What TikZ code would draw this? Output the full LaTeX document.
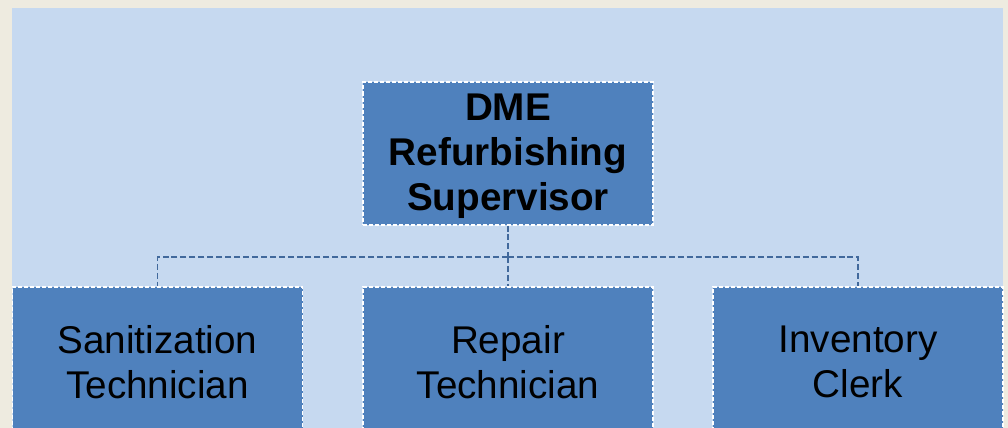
\documentclass[tikz,border=0pt]{standalone}
\usepackage{fontspec}
\setmainfont{Liberation Sans}
\definecolor{pagebg}{HTML}{EEEBE0}
\definecolor{panelbg}{HTML}{C6D9F0}
\definecolor{boxfill}{HTML}{4F81BD}
\definecolor{linkcol}{HTML}{41699C}
\begin{document}
\begin{tikzpicture}[x=0.75pt, y=-0.75pt,
    role/.style={draw=white, fill=boxfill, line width=1pt, dash pattern=on 3pt off 1.5pt,
      minimum width=217.5pt, align=center, text=black, inner sep=0pt,
      font=\fontsize{29}{33.5}\selectfont},
    link/.style={draw=linkcol, line width=1pt, dash pattern=on 4.5pt off 2.2pt}]
  % page and panel
  \useasboundingbox (0,0) rectangle (1008,428);
  \clip (0,0) rectangle (1008,428);
  \fill[pagebg] (0,0) rectangle (1008,428);
  \fill[panelbg] (12,8) rectangle (1003,440);

  % supervisor
  \node[role, minimum height=107pt, font=\bfseries\fontsize{29}{34}\selectfont] (sup) at (508,153.5)
    {\rule{0pt}{24pt}DME\\Refurbishing\\Supervisor};

  % staff
  \node[role, minimum height=112.5pt] (san) at (157.5,362) {Sanitization\\Technician};
  \node[role, minimum height=112.5pt] (rep) at (508,362) {Repair\\Technician};
  \node[role, minimum height=112.5pt] (inv) at (858,362) {Inventory\\Clerk};

  % links
  \coordinate (bus) at (508,257);
  \draw[link] (sup.south) -- (bus);
  \draw[link] (bus) -| (san.north);
  \draw[link] (bus) -- (rep.north);
  \draw[link] (bus) -| (inv.north);
\end{tikzpicture}
\end{document}
